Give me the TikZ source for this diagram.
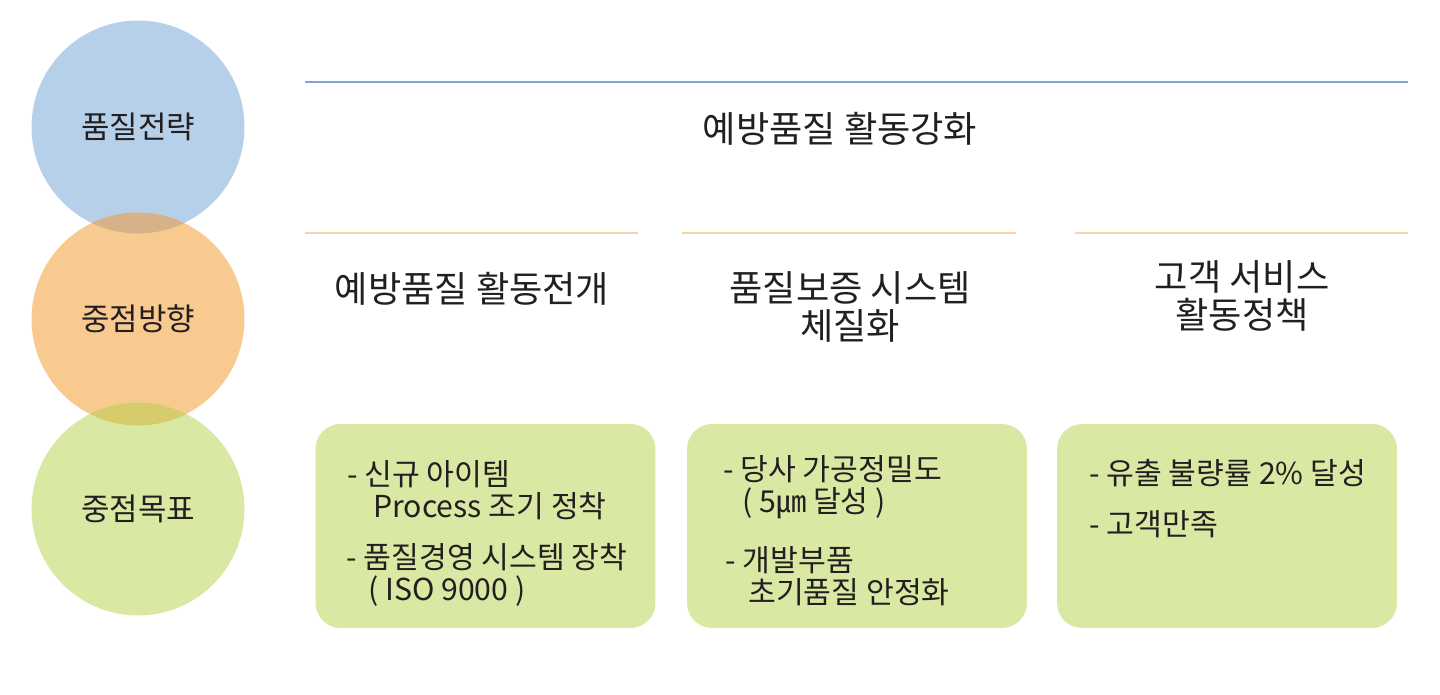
\documentclass[tikz,border=0pt]{standalone}
\usepackage{fontspec}
\setmainfont{Noto Sans CJK KR}
\usepackage{tikz}

\definecolor{cblue}{HTML}{B6D0EA}
\definecolor{corange}{HTML}{F8CA8F}
\definecolor{cgreen}{HTML}{D9E8A2}
\definecolor{blueorange}{HTML}{D5B287}
\definecolor{orangegreen}{HTML}{D6CC6B}
\definecolor{bluerule}{HTML}{7BA6D5}
\definecolor{orangerule}{HTML}{F9D4A8}
\definecolor{ink}{HTML}{231F20}

\tikzset{
    circ/.style={circle, minimum size=4.26cm, inner sep=0pt,
        text=ink, font=\fontsize{17.6}{20}\selectfont},
    head/.style={align=center, text=ink,
        font=\fontsize{20.6}{22}\selectfont},
    goalbox/.style={rectangle, rounded corners=0.5cm, fill=cgreen,
        minimum width=6.8cm, minimum height=4.08cm, inner sep=0pt},
    item/.style={anchor=west, align=left, inner sep=0pt, text=ink,
        font=\fontsize{17.2}{18.2}\selectfont}
}

\begin{document}
\begin{tikzpicture}[x=0.02cm, y=-0.02cm]
    \useasboundingbox (0,0) rectangle (1440,695);

    \node (strategy) [circ, fill=cblue] at (138,127) {};
    \node (direction) [circ, fill=corange] at (138,319) {};
    \node (goal) [circ, fill=cgreen] at (138,509) {};
    \begin{scope}
        \clip (strategy.center) circle [radius=2.13cm];
        \fill [blueorange] (direction.center) circle [radius=2.13cm];
    \end{scope}
    \begin{scope}
        \clip (direction.center) circle [radius=2.13cm];
        \fill [orangegreen] (goal.center) circle [radius=2.13cm];
    \end{scope}
    \node [circ] at (strategy.center) {품질전략};
    \node [circ] at (direction.center) {중점방향};
    \node [circ] at (goal.center) {중점목표};

    \draw [bluerule, line width=1.7pt] (305,82) -- (1408,82);
    \draw [orangerule, line width=1.1pt] (305,233) -- (638,233);
    \draw [orangerule, line width=1.1pt] (682,233) -- (1016,233);
    \draw [orangerule, line width=1.1pt] (1075,233) -- (1408,233);

    \node (title) [head] at (840,129) {예방품질 활동강화};
    \node (headA) [head] at (472,289) {예방품질 활동전개};
    \node (headB) [head] at (850,307)%
        {품질보증 시스템\\체질화};
    \node (headC) [head] at (1242,296)%
        {고객 서비스\\활동정책};

    \node (boxA) [goalbox] at (485.5,526) {};
    \node (boxB) [goalbox] at (857,526) {};
    \node (boxC) [goalbox] at (1227,526) {};

    \node (itemA1) [item] at (347,490)%
        {- 신규 아이템\\\hspace*{0.52cm}Process 조기 정착};
    \node (itemA2) [item] at (346,575)%
        {- 품질경영 시스템 장착\\\hspace*{0.44cm}( ISO 9000 )};
    \node (itemB1) [item] at (723,487)%
        {- 당사 가공정밀도\\\hspace*{0.38cm}( 5㎛ 달성 )};
    \node (itemB2) [item] at (725,576)%
        {- 개발부품\\\hspace*{0.46cm}초기품질 안정화};
    \node (itemC1) [item] at (1089,473) {- 유출 불량률 2\% 달성};
    \node (itemC2) [item] at (1089,524) {- 고객만족};
\end{tikzpicture}
\end{document}
